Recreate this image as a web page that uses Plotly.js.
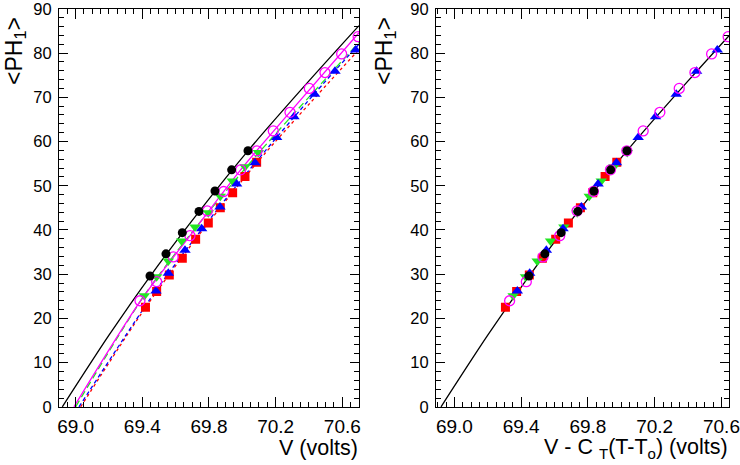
<!DOCTYPE html>
<html>
<head>
<meta charset="utf-8">
<script src="https://cdn.plot.ly/plotly-3.0.1.min.js"></script>
<style>
  html, body { margin: 0; padding: 0; background: #fff; }
  #myDiv { width: 740px; height: 465px; }
</style>
</head>
<body>
<div id="myDiv"></div>
<script>
/* pontos: V (volts) e <PH1> */
var blackV  = [69.446, 69.542, 69.640, 69.740, 69.836, 69.936, 70.034];
var blackPH = [29.6, 34.6, 39.4, 44.2, 48.8, 53.6, 57.9];

var magV  = [69.386, 69.486, 69.586, 69.686, 69.790, 69.888, 69.990, 70.088, 70.186, 70.286, 70.402, 70.496, 70.596, 70.695];
var magPH = [24.0, 28.3, 33.9, 38.7, 44.3, 48.7, 53.6, 57.9, 62.4, 66.6, 72.0, 75.6, 79.8, 83.7];

var greenV  = [69.412, 69.486, 69.556, 69.636, 69.716, 69.796, 69.868, 69.940, 70.016, 70.096];
var greenPH = [25.1, 29.4, 33.0, 37.5, 40.7, 43.9, 47.6, 51.1, 54.3, 57.5];

var blueV  = [69.482, 69.556, 69.656, 69.756, 69.866, 69.966, 70.076, 70.206, 70.310, 70.434, 70.556, 70.680];
var bluePH = [26.2, 30.2, 35.4, 40.3, 45.2, 50.4, 55.2, 60.9, 65.6, 70.7, 75.9, 80.7];

var redV  = [69.419, 69.486, 69.562, 69.640, 69.720, 69.796, 69.868, 69.942, 70.016, 70.086];
var redPH = [22.5, 26.1, 29.8, 33.6, 37.9, 41.6, 45.0, 48.4, 52.1, 55.3];

/* eixo x do painel direito: V - C_T(T-T0) */
var blackVc = [69.446, 69.542, 69.640, 69.740, 69.836, 69.936, 70.034];
var magVc   = [69.331, 69.431, 69.531, 69.631, 69.735, 69.833, 69.935, 70.033, 70.131, 70.231, 70.347, 70.441, 70.541, 70.640];
var greenVc = [69.352, 69.426, 69.496, 69.576, 69.656, 69.736, 69.808, 69.880, 69.956, 70.036];
var blueVc  = [69.377, 69.451, 69.551, 69.651, 69.761, 69.861, 69.971, 70.101, 70.205, 70.329, 70.451, 70.575];
var redVc   = [69.306, 69.373, 69.449, 69.527, 69.607, 69.683, 69.755, 69.829, 69.903, 69.973];

/* curvas de ajuste */
var fitBlackX = [68.92, 69.2, 69.45, 69.75, 70.05, 70.4, 70.7];
var fitBlackY = [0, 16.2, 29.7, 44.6, 58.6, 73.7, 86.2];
var fitMagX = [68.99, 69.39, 69.69, 69.99, 70.29, 70.7];
var fitMagY = [0, 24.0, 38.9, 53.6, 66.8, 84.6];
var fitGreenX = [69.0, 69.41, 69.72, 70.1, 70.7];
var fitGreenY = [0, 25.1, 40.5, 57.5, 82.4];
var fitBlueX = [69.02, 69.48, 69.76, 70.08, 70.43, 70.7];
var fitBlueY = [0, 26.2, 40.3, 55.3, 70.7, 82.0];
var fitRedX = [69.03, 69.42, 69.72, 70.09, 70.7];
var fitRedY = [0, 22.5, 37.9, 55.3, 80.8];

/* ticks */
var xTickVals = [69.0, 69.4, 69.8, 70.2, 70.6];
var xTickText = ['69.0', '69.4', '69.8', '70.2', '70.6'];
var yTickVals = [0, 10, 20, 30, 40, 50, 60, 70, 80, 90];

var cBlack = '#000000', cMag = '#ff00ff', cGreen = '#22e622', cBlue = '#0000ff', cRed = '#ff0000';

function fitLine(x, y, color, dash, xa, ya) {
  return {
    x: x, y: y, xaxis: xa, yaxis: ya, type: 'scatter', mode: 'lines',
    line: { color: color, width: 1.3, dash: dash, shape: 'spline', smoothing: 0.8 },
    hoverinfo: 'skip', showlegend: false
  };
}

function pts(x, y, symbol, color, size, xa, ya) {
  var open = symbol.indexOf('open') >= 0;
  return {
    x: x, y: y, xaxis: xa, yaxis: ya, type: 'scatter', mode: 'markers',
    marker: {
      symbol: symbol, size: size, color: color,
      line: { color: color, width: open ? 1.3 : 0 }
    },
    showlegend: false
  };
}

var data = [
  fitLine(fitRedX, fitRedY, cRed, 'dot', 'x', 'y'),
  fitLine(fitBlueX, fitBlueY, cBlue, '4px,3px', 'x', 'y'),
  fitLine(fitGreenX, fitGreenY, cGreen, '7px,4px', 'x', 'y'),
  fitLine(fitMagX, fitMagY, cMag, 'solid', 'x', 'y'),
  fitLine(fitBlackX, fitBlackY, cBlack, 'solid', 'x', 'y'),
  pts(redV, redPH, 'square', cRed, 9, 'x', 'y'),
  pts(greenV, greenPH, 'triangle-down', cGreen, 10, 'x', 'y'),
  pts(blueV, bluePH, 'triangle-up', cBlue, 10, 'x', 'y'),
  pts(magV, magPH, 'circle-open', cMag, 10, 'x', 'y'),
  pts(blackV, blackPH, 'circle', cBlack, 9, 'x', 'y'),

  fitLine(fitBlackX, fitBlackY, cBlack, 'solid', 'x2', 'y2'),
  pts(redVc, redPH, 'square', cRed, 9, 'x2', 'y2'),
  pts(greenVc, greenPH, 'triangle-down', cGreen, 10, 'x2', 'y2'),
  pts(blueVc, bluePH, 'triangle-up', cBlue, 10, 'x2', 'y2'),
  pts(magVc, magPH, 'circle-open', cMag, 10, 'x2', 'y2'),
  pts(blackVc, blackPH, 'circle', cBlack, 9, 'x2', 'y2')
];

var fontFam = 'Liberation Sans, Arial, sans-serif';

// eixo principal: rotulos a cada 0.4, ticks menores a cada 0.05
function xAxis(domain, range, anchor) {
  return {
    domain: domain, range: range, anchor: anchor,
    tickmode: 'array', tickvals: xTickVals, ticktext: xTickText,
    ticks: 'inside', ticklen: 10, tickwidth: 1, tickcolor: '#000',
    minor: { dtick: 0.05, tick0: 68.9, ticks: 'inside', ticklen: 5, tickcolor: '#000', tickwidth: 1 },
    showline: true, linecolor: '#000', linewidth: 1, mirror: 'ticks',
    showgrid: false, zeroline: false,
    tickfont: { family: fontFam, size: 19, color: '#000' },
    ticklabelstandoff: 2
  };
}

// eixo sobreposto so para os ticks longos a cada 0.1
function xAxisTicks(over, range, anchor) {
  return {
    overlaying: over, range: range, anchor: anchor,
    dtick: 0.1, tick0: 68.9,
    ticks: 'inside', ticklen: 10, tickwidth: 1, tickcolor: '#000',
    showticklabels: false, showline: false, mirror: 'ticks',
    showgrid: false, zeroline: false
  };
}

function yAxis(anchor) {
  return {
    domain: [0.125, 0.981], range: [0, 90], anchor: anchor,
    tickmode: 'array', tickvals: yTickVals,
    ticks: 'inside', ticklen: 9, tickwidth: 1, tickcolor: '#000',
    minor: { dtick: 2, tick0: 0, ticks: 'inside', ticklen: 5, tickcolor: '#000', tickwidth: 1 },
    showline: true, linecolor: '#000', linewidth: 1, mirror: 'ticks',
    showgrid: false, zeroline: false,
    tickfont: { family: fontFam, size: 16.5, color: '#000' },
    ticklabelstandoff: 3, ticklabeloverflow: 'allow'
  };
}

var layout = {
  width: 740, height: 465,
  margin: { l: 0, r: 0, t: 0, b: 0 },
  paper_bgcolor: '#fff', plot_bgcolor: '#fff',
  showlegend: false,
  xaxis: xAxis([0.0797, 0.4851], [68.9, 70.7], 'y'),
  yaxis: yAxis('x'),
  xaxis2: xAxis([0.5892, 0.9851], [68.89, 70.645], 'y2'),
  yaxis2: yAxis('x2'),
  xaxis3: xAxisTicks('x', [68.9, 70.7], 'y'),
  xaxis4: xAxisTicks('x2', [68.89, 70.645], 'y2'),
  annotations: [
    { text: 'V (volts)', xref: 'paper', yref: 'paper', x: 0.4865, y: 0.036,
      xanchor: 'right', yanchor: 'middle', showarrow: false,
      font: { family: fontFam, size: 21.5, color: '#000' } },
    { text: 'V - C <sub>T</sub>(T-T<sub>o</sub>) (volts)', xref: 'paper', yref: 'paper', x: 0.9865, y: 0.036,
      xanchor: 'right', yanchor: 'middle', showarrow: false,
      font: { family: fontFam, size: 21.5, color: '#000' } },
    { text: '&lt;PH<sub>1</sub>&gt;', xref: 'paper', yref: 'paper', x: 0.020, y: 0.890,
      xanchor: 'center', yanchor: 'middle', textangle: -90, showarrow: false,
      font: { family: fontFam, size: 23, color: '#000' } },
    { text: '&lt;PH<sub>1</sub>&gt;', xref: 'paper', yref: 'paper', x: 0.520, y: 0.890,
      xanchor: 'center', yanchor: 'middle', textangle: -90, showarrow: false,
      font: { family: fontFam, size: 23, color: '#000' } }
  ]
};

Plotly.newPlot('myDiv', data, layout, { displayModeBar: false, staticPlot: true });
</script>
</body>
</html>
